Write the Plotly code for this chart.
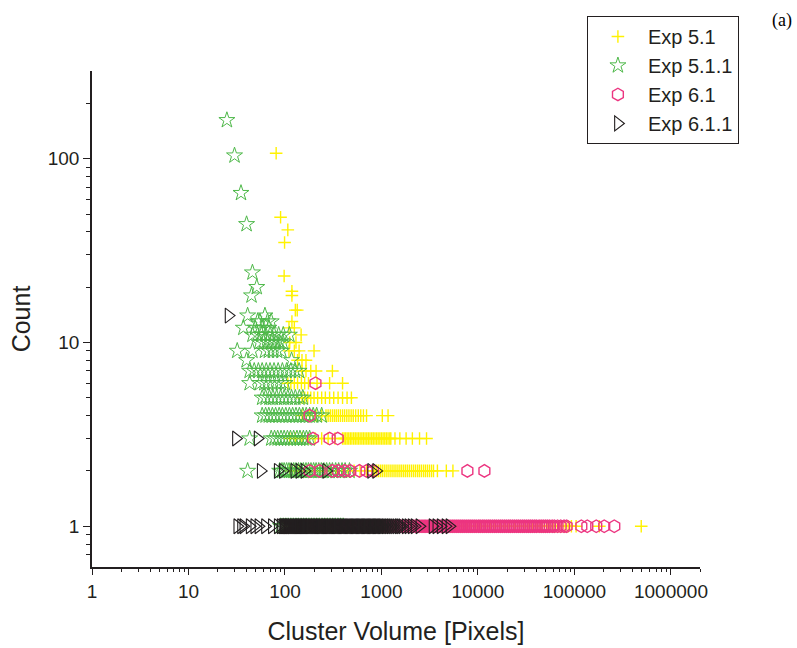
import plotly.graph_objects as go

# Cluster-volume histograms: for every experiment, rows of cluster volumes
# grouped by how many times that volume occurred (the count).

# ---- Exp 5.1 ----
exp51_counts = [107, 48, 41, 35, 23, 19, 18, 15, 13, 12, 11, 10, 9, 8, 7, 6, 5, 4, 3, 2, 1]
exp51_volumes = [
    [81],
    [90],
    [107],
    [99],
    [98],
    [118],
    [118],
    [128, 134],
    [118],
    [110, 125],
    [147],
    [112, 130],
    [110, 125, 140, 200],
    [135, 150, 165],
    [150, 165, 185, 210, 310],
    [107, 115, 125, 135, 148, 160, 175, 215, 290, 395],
    [150, 160, 172, 185, 200, 218, 240, 262, 290, 320, 355, 395, 440, 488],
    [150, 180, 210, 240, 266, 280, 295, 310, 325, 340, 357, 375, 395, 415, 437,
     460, 485, 510, 540, 575, 610, 650, 700, 1020, 1170],
    [112, 128, 150, 175, 205, 240, 280, 330, 395, 410, 425, 441, 458, 476, 494,
     515, 535, 557, 578, 601, 626, 650, 676, 704, 731, 760, 792, 822, 856, 890,
     924, 962, 1000, 1040, 1082, 1125, 1170, 1220, 1250, 1380, 1550, 1800, 2090,
     2480, 2930],
    [112, 125, 140, 160, 180, 205, 230, 260, 300, 340, 390, 450, 520, 600, 700,
     815, 851, 889, 931, 975, 1019, 1068, 1118, 1171, 1229, 1288, 1349, 1412,
     1480, 1551, 1622, 1700, 1779, 1862, 1951, 2049, 2148, 2251, 2362, 2470,
     2590, 2722, 2850, 2990, 3140, 3300, 3460, 3800, 4700, 5500],
    [110, 120, 135, 150, 170, 190, 215, 240, 270, 300, 340, 380, 430, 480, 540,
     600, 680, 760, 850, 950, 1070, 1200, 1350, 1500, 1700, 1900, 2100, 2400,
     2700, 3000, 3400, 3800, 4300, 4800, 5400, 6000, 6800, 7600, 8500, 9500,
     10700, 12000, 13500, 15000, 17000, 19000, 21000, 24000, 27000, 30000,
     33000, 37000, 41000, 44000, 46000, 49000, 52000, 56000, 60000, 64000,
     69000, 74000, 80000, 86000, 93000, 104000, 181000, 492000],
]

# ---- Exp 5.1.1 ----
exp511_counts = [162, 104, 65, 44, 24, 20, 18, 14, 13, 12, 11, 10, 9, 8, 7, 6, 5, 4, 3, 2, 1]
exp511_volumes = [
    [25],
    [30],
    [35],
    [40],
    [46],
    [51],
    [45],
    [41, 62],
    [52, 55, 66, 72],
    [37, 49, 58, 68],
    [46, 52, 57, 63, 70, 77, 86, 96, 111],
    [54, 60, 66, 73, 80, 88, 95],
    [32, 46, 62, 68, 75, 83, 92],
    [40, 117],
    [43, 48, 53, 58, 64, 70, 77, 85, 94, 104, 115, 127, 140],
    [43, 55, 61, 67, 74, 82, 91, 100],
    [58, 63, 69, 75, 82, 90, 98, 107, 117, 128, 141, 153],
    [58, 63, 68, 74, 80, 87, 94, 102, 111, 120, 130, 141, 153, 166, 180, 196,
     213, 240],
    [43, 72, 78, 84, 91, 98, 106, 114, 123, 133, 143, 155, 167, 180],
    [41, 88, 93, 98, 104, 110, 116, 123, 130, 138, 146, 155, 165, 175, 186, 198,
     210, 224, 238, 253, 270, 290, 310, 335, 360, 390, 420, 466],
    [90, 96, 102, 108, 115, 122, 130, 138, 147, 156, 166, 177, 188, 200, 213,
     227, 242, 258, 275, 293, 312, 332, 354, 377, 401],
]

# ---- Exp 6.1 ----
exp61_counts = [6, 4, 3, 2, 1]
exp61_volumes = [
    [207],
    [180],
    [195, 290, 352],
    [180, 228, 309, 355, 415, 475, 590, 700, 815, 7770, 11660],
    [141, 148, 155, 163, 171, 179, 188, 197, 207, 217, 228, 239, 251, 263, 276,
     290, 304, 319, 335, 351, 368, 386, 405, 425, 446, 468, 491, 515, 540, 567,
     595, 624, 655, 687, 720, 756, 793, 832, 873, 915, 960, 1010, 1060, 1110,
     1160, 1220, 1280, 1340, 1410, 1480, 1550, 1630, 1710, 1790, 1880, 1970,
     2070, 2170, 2280, 2390, 2500, 2630, 2760, 2890, 3040, 3190, 3340, 3500,
     3680, 3860, 4050, 4250, 4450, 4670, 4900, 5140, 5400, 5660, 5940, 6230,
     6540, 6860, 7190, 7550, 7920, 8300, 8710, 9140, 9590, 10100, 10550, 11100,
     11600, 12200, 12800, 13400, 14100, 14800, 15500, 16300, 17100, 17900,
     18800, 19700, 20700, 21700, 22800, 23900, 25100, 26300, 27600, 29000,
     30400, 31900, 33500, 35100, 36800, 38700, 40500, 43000, 45200, 47500,
     50000, 52500, 55300, 58800, 62000, 66800, 72000, 78000, 83000, 117800,
     135900, 168200, 203500, 258700],
]

# ---- Exp 6.1.1 ----
exp611_counts = [14, 3, 2, 1]
exp611_volumes = [
    [26],
    [31, 52],
    [56, 84, 95, 125, 141, 159, 267, 780, 880],
    [32, 35, 37, 43, 48, 53, 62, 73, 84, 90, 94, 97, 99, 101, 103, 105, 107,
     109, 111, 113, 116, 118, 121, 124, 127, 130, 133, 136, 139, 142, 145, 148,
     152, 156, 160, 164, 168, 172, 176, 180, 185, 190, 195, 200, 205, 210, 216,
     222, 228, 234, 240, 247, 254, 261, 268, 275, 283, 291, 299, 307, 315, 324,
     333, 342, 352, 362, 372, 383, 394, 405, 417, 429, 441, 454, 467, 481, 495,
     509, 524, 540, 556, 572, 589, 606, 624, 642, 661, 680, 700, 721, 742, 764,
     787, 810, 834, 859, 885, 911, 938, 966, 995, 1025, 1060, 1100, 1140, 1190,
     1240, 1290, 1350, 1420, 1500, 1560, 1640, 1780, 1900, 2050, 2200, 2470,
     3380, 3700, 4100, 4600, 5060],
]

x_tickvals = [1, 10, 100, 1000, 10000, 100000, 1000000]
x_ticktext = ["1", "10", "100", "1000", "10000", "100000", "1000000"]
y_tickvals = [1, 10, 100]
y_ticktext = ["1", "10", "100"]

INK = "#231F20"
SANS = "Liberation Sans"


def flatten(counts, volumes):
    xs, ys = [], []
    for c, vols in zip(counts, volumes):
        for v in vols:
            xs.append(v)
            ys.append(c)
    return xs, ys


series = [
    ("Exp 5.1", exp51_counts, exp51_volumes, "cross-thin-open", "#FFF200", 9, 1.4),
    ("Exp 5.1.1", exp511_counts, exp511_volumes, "star-open", "#4DB848", 12, 1.0),
    ("Exp 6.1", exp61_counts, exp61_volumes, "hexagon-open", "#EC3580", 12.5, 1.4),
    ("Exp 6.1.1", exp611_counts, exp611_volumes, "triangle-right-open", INK, 13, 1.1),
]

fig = go.Figure()
for name, counts, volumes, symbol, color, size, lw in series:
    xs, ys = flatten(counts, volumes)
    fig.add_trace(go.Scatter(
        x=xs, y=ys, name=name, mode="markers",
        marker=dict(symbol=symbol, size=size, color=color,
                    line=dict(color=color, width=lw)),
    ))


def minor_vals(lo_exp, hi_exp, extra=()):
    vals = []
    for e in range(lo_exp, hi_exp):
        for m in range(2, 10):
            vals.append(m * 10 ** e)
    return vals + list(extra)


fig.update_xaxes(
    type="log", range=[0, 6.301], automargin=False,
    tickmode="array", tickvals=x_tickvals, ticktext=x_ticktext,
    ticks="outside", ticklen=6, tickwidth=1.3, tickcolor=INK,
    minor=dict(tickmode="array", tickvals=minor_vals(0, 6, [2000000]),
               ticks="outside", ticklen=3.5, tickwidth=1.2, tickcolor=INK),
    showline=True, linecolor=INK, linewidth=1.5,
    showgrid=False, zeroline=False,
    tickfont=dict(family=SANS, size=19, color=INK),
    title=dict(text="Cluster Volume [Pixels]", standoff=22,
               font=dict(family=SANS, size=25, color=INK)),
)
fig.update_yaxes(
    type="log", range=[-0.2218, 2.4771], automargin=False,
    tickmode="array", tickvals=y_tickvals, ticktext=y_ticktext,
    ticks="outside", ticklen=7, tickwidth=1.3, tickcolor=INK,
    minor=dict(tickmode="array",
               tickvals=[0.7, 0.8, 0.9] + minor_vals(0, 2, [200]),
               ticks="outside", ticklen=4, tickwidth=1.2, tickcolor=INK),
    showline=True, linecolor=INK, linewidth=1.5,
    showgrid=False, zeroline=False,
    tickfont=dict(family=SANS, size=19, color=INK),
    title=dict(text="Count", standoff=10,
               font=dict(family=SANS, size=25, color=INK)),
)

fig.update_layout(
    width=797, height=648,
    margin=dict(l=92, r=97, t=71, b=81),
    paper_bgcolor="white", plot_bgcolor="white",
    showlegend=True,
    legend=dict(
        x=0.814, y=1.111, xanchor="left", yanchor="top",
        bordercolor=INK, borderwidth=1, bgcolor="white",
        font=dict(family=SANS, size=20, color=INK),
        itemwidth=50, tracegroupgap=0,
    ),
    annotations=[dict(
        text="(a)", xref="paper", yref="paper", x=1.135, y=1.102,
        xanchor="center", yanchor="middle", showarrow=False,
        font=dict(family="Liberation Serif", size=18, color="black"),
    )],
)

fig.write_html("out.html")
